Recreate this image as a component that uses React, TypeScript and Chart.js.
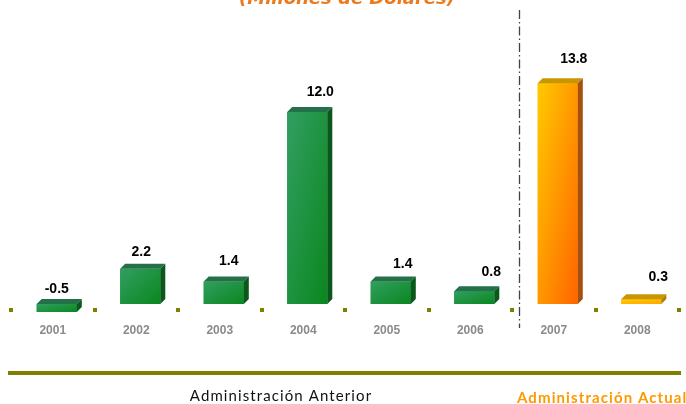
import React, { useEffect, useRef } from 'react';
import { Chart, registerables } from 'chart.js';

Chart.register(...registerables);

// ---- data ----
const years = ['2001', '2002', '2003', '2004', '2005', '2006', '2007', '2008'];
const values = [-0.5, 2.2, 1.4, 12.0, 1.4, 0.8, 13.8, 0.3];
const valueLabels = ['-0.5', '2.2', '1.4', '12.0', '1.4', '0.8', '13.8', '0.3'];
const administration = ['Anterior', 'Anterior', 'Anterior', 'Anterior', 'Anterior', 'Anterior', 'Actual', 'Actual'];
const titleText = '(Millones de Dólares)';
const groupAnterior = 'Administración Anterior';
const groupActual = 'Administración Actual';
const yMin = -1;
const yMax = 18;

// ---- style ----
const labelDx = [0, 1, 5, 13, 12, 17, 16, 17];
const labelDy = [10, 12, 15, 15, 12, 14, 19, 17];
const DEPTH = 5;

function lerpColor(a: number[], b: number[], t: number) {
  const k = Math.max(0, Math.min(1, t));
  const c = a.map((v, i) => Math.round(v + (b[i] - v) * k));
  return `rgb(${c[0]},${c[1]},${c[2]})`;
}

const decoPlugin = {
  id: 'deco',
  afterDatasetsDraw(chart: any) {
    const ctx: CanvasRenderingContext2D = chart.ctx;
    const meta = chart.getDatasetMeta(0);
    const ca = chart.chartArea;
    const n = meta.data.length;
    const step = n > 1 ? meta.data[1].x - meta.data[0].x : 80;
    ctx.save();

    meta.data.forEach((el: any, i: number) => {
      const { x, y, base, width } = el.getProps(['x', 'y', 'base', 'width'], true);
      const left = x - width / 2;
      const right = x + width / 2;
      const top = Math.min(y, base);
      const bottom = Math.max(y, base);
      const h = bottom - top;
      const actual = administration[i] === 'Actual';

      let frontA: string, frontB: string, topC: string, sideC: string;
      if (actual) {
        frontA = 'rgb(255,202,0)';
        frontB = lerpColor([255, 170, 0], [255, 100, 0], h / 220);
        topC = 'rgb(200,150,0)';
        sideC = lerpColor([176, 128, 0], [165, 80, 16], h / 220);
      } else {
        frontA = 'rgb(50,158,98)';
        frontB = 'rgb(10,135,30)';
        topC = 'rgb(36,112,72)';
        sideC = 'rgb(10,88,28)';
      }
      // diagonal gradient: top-right and bottom-left share the same tone
      const s = (2 * width * h) / (h * h + width * width || 1);
      const g = ctx.createLinearGradient(left, top, left + h * s, top + width * s);
      g.addColorStop(0, frontA);
      g.addColorStop(1, frontB);
      ctx.fillStyle = g;
      ctx.fillRect(left, top, width, h);

      // top face
      ctx.fillStyle = topC;
      ctx.beginPath();
      ctx.moveTo(left, top);
      ctx.lineTo(left + DEPTH, top - DEPTH);
      ctx.lineTo(right + DEPTH, top - DEPTH);
      ctx.lineTo(right, top);
      ctx.closePath();
      ctx.fill();

      // side face
      ctx.fillStyle = sideC;
      ctx.beginPath();
      ctx.moveTo(right, top);
      ctx.lineTo(right + DEPTH, top - DEPTH);
      ctx.lineTo(right + DEPTH, bottom - DEPTH);
      ctx.lineTo(right, bottom);
      ctx.closePath();
      ctx.fill();

      // value label
      ctx.fillStyle = '#000';
      ctx.font = 'bold 14px "Liberation Sans", Arial, sans-serif';
      ctx.textAlign = 'center';
      ctx.textBaseline = 'middle';
      ctx.fillText(valueLabels[i], x + labelDx[i], top - DEPTH - labelDy[i]);

      // year label
      ctx.fillStyle = '#8a8a8a';
      ctx.font = 'bold 12px "Liberation Sans", Arial, sans-serif';
      ctx.fillText(years[i], x - 4, 331);
    });

    // olive dots at category boundaries
    ctx.fillStyle = '#808000';
    for (let i = 0; i <= n; i++) {
      const bx = meta.data[0].x - step / 2 + step * i - 4;
      ctx.fillRect(Math.round(bx) - 2, 308, 4, 4);
    }

    // dash-dot separator
    const lastAnt = administration.lastIndexOf('Anterior');
    const sx = Math.round((meta.data[lastAnt].x + meta.data[lastAnt + 1].x) / 2 + 3) + 0.5;
    ctx.strokeStyle = '#444';
    ctx.lineWidth = 1.3;
    ctx.setLineDash([9, 3, 1.5, 3]);
    ctx.beginPath();
    ctx.moveTo(sx, 10);
    ctx.lineTo(sx, 328);
    ctx.stroke();
    ctx.setLineDash([]);

    // olive rule
    ctx.strokeStyle = '#808000';
    ctx.lineWidth = 4;
    ctx.beginPath();
    ctx.moveTo(8, 373);
    ctx.lineTo(681, 373);
    ctx.stroke();

    // group labels
    (ctx as any).letterSpacing = '1.1px';
    ctx.fillStyle = '#111';
    ctx.font = '15px Lato, "Open Sans", sans-serif';
    ctx.textAlign = 'center';
    ctx.textBaseline = 'middle';
    ctx.fillText(groupAnterior, 281, 396);
    ctx.fillStyle = '#FF9900';
    ctx.font = 'bold 15px Lato, "Open Sans", sans-serif';
    ctx.textAlign = 'left';
    ctx.fillText(groupActual, 517, 398);
    (ctx as any).letterSpacing = '0px';

    // title (cut at the top)
    ctx.fillStyle = '#EC7A1C';
    ctx.font = 'italic bold 18px "DejaVu Sans", Verdana, sans-serif';
    ctx.textAlign = 'center';
    ctx.textBaseline = 'alphabetic';
    ctx.fillText(titleText, ca.left + 332, 4);

    ctx.restore();
  },
};

export default function App() {
  const ref = useRef<HTMLCanvasElement>(null);
  useEffect(() => {
    if (!ref.current) return;
    const chart = new Chart(ref.current, {
      type: 'bar',
      data: {
        labels: years,
        datasets: [
          {
            data: values,
            backgroundColor: administration.map((a) => (a === 'Actual' ? '#FFB000' : '#1E8A40')),
            borderWidth: 0,
            barPercentage: 0.48,
            categoryPercentage: 1,
          },
        ],
      },
      options: {
        responsive: false,
        animation: false,
        layout: { padding: { left: 15, right: 3, top: 16, bottom: 84 } },
        plugins: { legend: { display: false }, tooltip: { enabled: false }, title: { display: false } },
        scales: {
          x: { display: false, offset: true, grid: { display: false } },
          y: { display: false, min: yMin, max: yMax },
        },
      },
      plugins: [decoPlugin],
    });
    return () => chart.destroy();
  }, []);
  return (
    <div style={{ position: 'fixed', left: 0, top: 0, width: 686, height: 404, background: '#fff' }}>
      <canvas ref={ref} width={686} height={404} style={{ display: 'block' }} />
    </div>
  );
}
